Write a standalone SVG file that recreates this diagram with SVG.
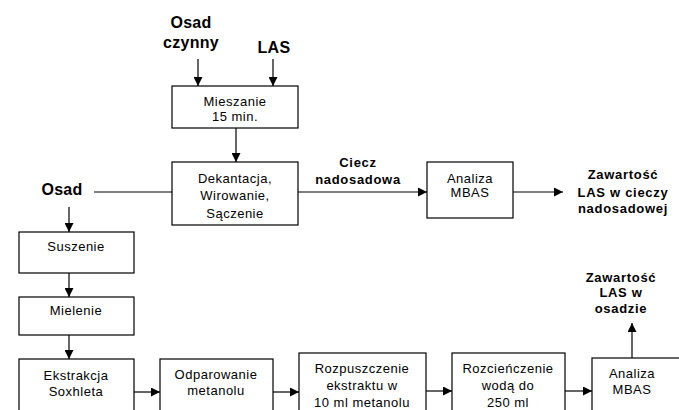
<svg xmlns="http://www.w3.org/2000/svg" width="679" height="410" viewBox="0 0 679 410">
<style>
rect{fill:#fff;stroke:#000;stroke-width:1.2}
.c line{stroke:#000;stroke-width:1.2}
text{font-family:"Liberation Sans",Arial,sans-serif;fill:#000;text-anchor:middle}
.n{font-size:13px;letter-spacing:0.5px}
.b{font-size:16px;font-weight:bold;letter-spacing:0.3px}
.s{font-size:13px;font-weight:bold;letter-spacing:0.7px}
</style>
<defs>
<marker id="ah" markerUnits="userSpaceOnUse" markerWidth="9" markerHeight="9" refX="9" refY="4.5" orient="auto">
<path d="M0,0 L9,4.5 L0,9 z" fill="#000"/>
</marker>
</defs>
<g class="c">
<line x1="198" y1="59" x2="198" y2="86" marker-end="url(#ah)"/>
<line x1="273" y1="59" x2="273" y2="86" marker-end="url(#ah)"/>
<line x1="236" y1="128" x2="236" y2="162" marker-end="url(#ah)"/>
<line x1="94" y1="192" x2="172" y2="192"/>
<line x1="298" y1="192" x2="427" y2="192" marker-end="url(#ah)"/>
<line x1="513" y1="192" x2="563" y2="192" marker-end="url(#ah)"/>
<line x1="69" y1="207" x2="69" y2="232" marker-end="url(#ah)"/>
<line x1="69" y1="273" x2="69" y2="297" marker-end="url(#ah)"/>
<line x1="69" y1="335" x2="69" y2="359" marker-end="url(#ah)"/>
<line x1="134" y1="392" x2="160" y2="392" marker-end="url(#ah)"/>
<line x1="273" y1="392" x2="299" y2="392" marker-end="url(#ah)"/>
<line x1="426" y1="391" x2="452" y2="391" marker-end="url(#ah)"/>
<line x1="565" y1="391" x2="592" y2="391" marker-end="url(#ah)"/>
<line x1="632" y1="358" x2="632" y2="323" marker-end="url(#ah)"/>
</g>
<g id="osad-czynny"><text class="b" x="191" y="28">Osad</text><text class="b" x="191" y="48">czynny</text></g>
<g id="las"><text class="b" x="274" y="53">LAS</text></g>
<g id="mieszanie"><rect x="172" y="86" width="126" height="42"/><text class="n" x="235" y="106">Mieszanie</text><text class="n" x="235" y="121">15 min.</text></g>
<g id="dekantacja"><rect x="172" y="162" width="126" height="63"/><text class="n" x="235" y="183">Dekantacja,</text><text class="n" x="235" y="200">Wirowanie,</text><text class="n" x="235" y="218">Sączenie</text></g>
<g id="osad"><text class="b" x="62" y="195">Osad</text></g>
<g id="ciecz"><text class="s" x="358" y="167">Ciecz</text><text class="s" x="358" y="184">nadosadowa</text></g>
<g id="analiza1"><rect x="427" y="162" width="86" height="56"/><text class="n" x="470" y="183">Analiza</text><text class="n" x="470" y="197">MBAS</text></g>
<g id="zawartosc1"><text class="s" x="623" y="179">Zawartość</text><text class="s" x="623" y="197">LAS w cieczy</text><text class="s" x="623" y="213">nadosadowej</text></g>
<g id="suszenie"><rect x="19" y="232" width="115" height="41"/><text class="n" x="76" y="251">Suszenie</text></g>
<g id="mielenie"><rect x="19" y="297" width="115" height="38"/><text class="n" x="76" y="315">Mielenie</text></g>
<g id="ekstrakcja"><rect x="19" y="359" width="115" height="60"/><text class="n" x="76" y="380">Ekstrakcja</text><text class="n" x="76" y="396">Soxhleta</text></g>
<g id="odparowanie"><rect x="160" y="359" width="113" height="60"/><text class="n" x="216" y="379">Odparowanie</text><text class="n" x="216" y="395">metanolu</text></g>
<g id="rozpuszczenie"><rect x="299" y="353" width="127" height="65"/><text class="n" x="362" y="373">Rozpuszczenie</text><text class="n" x="362" y="390">ekstraktu w</text><text class="n" x="362" y="407">10 ml metanolu</text></g>
<g id="rozcienczenie"><rect x="452" y="353" width="113" height="65"/><text class="n" x="508" y="373">Rozcieńczenie</text><text class="n" x="508" y="390">wodą do</text><text class="n" x="508" y="407">250 ml</text></g>
<g id="analiza2"><rect x="592" y="358" width="95" height="60"/><text class="n" x="632" y="378">Analiza</text><text class="n" x="632" y="394">MBAS</text></g>
<g id="zawartosc2"><text class="s" x="621" y="282">Zawartość</text><text class="s" x="621" y="297">LAS w</text><text class="s" x="621" y="313">osadzie</text></g>
</svg>
